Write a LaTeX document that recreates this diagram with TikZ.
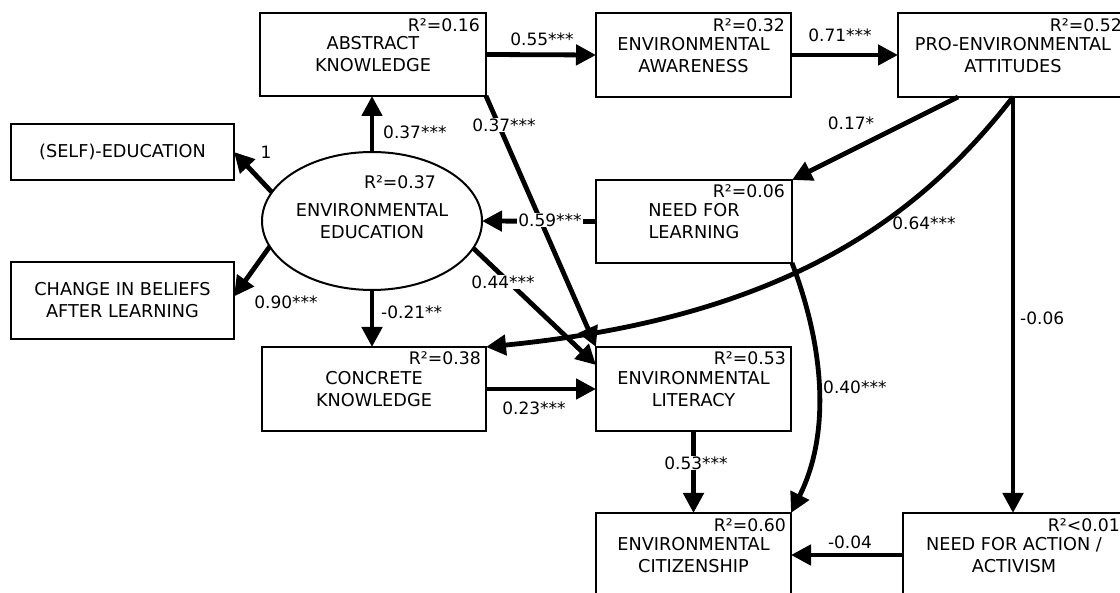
\documentclass[tikz,border=0pt]{standalone}
\usepackage{fontspec}
\setmainfont{DejaVu Sans}
\usetikzlibrary{arrows.meta,shapes.geometric,calc}
\begin{document}
\begin{tikzpicture}[x=1pt,y=-1pt,
  box/.style={draw,line width=2.2pt,rectangle,inner sep=0pt,outer sep=0pt,align=center,
    font=\fontsize{17.7pt}{22pt}\selectfont},
  rsq/.style={inner sep=0pt,anchor=north east,font=\fontsize{17.3pt}{20pt}\selectfont},
  lab/.style={inner sep=1pt,font=\fontsize{17pt}{20pt}\selectfont},
  wlab/.style={lab,fill=white},
  conn/.style={line width=4.8pt,-{Triangle[length=20pt,width=20pt]}},
  txt/.style={inner sep=0pt,align=center,font=\fontsize{17.7pt}{22pt}\selectfont}]
\useasboundingbox (0,0) rectangle (1120,593);
\fill[white] (0,0) rectangle (1120,593);
\clip (0,0) rectangle (1120,593);

% boxes
\node[box,minimum width=226pt,minimum height=83pt] (abs) at (373,54.5) {ABSTRACT\\KNOWLEDGE};
\node[box,minimum width=195pt,minimum height=84pt] (aware) at (693.5,55) {ENVIRONMENTAL\\AWARENESS};
\node[box,minimum width=230pt,minimum height=84pt] (pro) at (1013,55) {PRO-ENVIRONMENTAL\\ATTITUDES};
\node[box,minimum width=223pt,minimum height=56pt] (self) at (122.5,152) {(SELF)-EDUCATION};
\node[box,minimum width=223pt,minimum height=77pt] (change) at (122.5,300.5) {CHANGE IN BELIEFS\\AFTER LEARNING};
\node[draw,ellipse,line width=2pt,minimum width=220pt,minimum height=138pt,inner sep=0pt,outer sep=0pt] (ell) at (372,221) {};
\node[txt] (elltxt) at (ell.center) {ENVIRONMENTAL\\EDUCATION};
\node[box,minimum width=196pt,minimum height=83pt] (learn) at (694,221.5) {NEED FOR\\LEARNING};
\node[box,minimum width=224pt,minimum height=84pt] (conc) at (374,389) {CONCRETE\\KNOWLEDGE};
\node[box,minimum width=195pt,minimum height=84pt] (lit) at (693.5,389) {ENVIRONMENTAL\\LITERACY};
\node[box,minimum width=195pt,minimum height=84pt] (cit) at (693.5,555) {ENVIRONMENTAL\\CITIZENSHIP};
\node[box,minimum width=222pt,minimum height=84pt] (action) at (1014,555) {NEED FOR ACTION /\\ACTIVISM};

% R squared
\node[rsq] (r1) at ([xshift=-6pt,yshift=-5pt]abs.north east) {R²=0.16};
\node[rsq] (r2) at ([xshift=-6pt,yshift=-5pt]aware.north east) {R²=0.32};
\node[rsq] (r3) at ([xshift=-6pt,yshift=-5pt]pro.north east) {R²=0.52};
\node[inner sep=0pt,font=\fontsize{17.3pt}{20pt}\selectfont] (r4) at (400,182) {R²=0.37};
\node[rsq] (r5) at ([xshift=-7pt,yshift=-4pt]learn.north east) {R²=0.06};
\node[rsq] (r6) at ([xshift=-5pt,yshift=-4pt]conc.north east) {R²=0.38};
\node[rsq] (r7) at ([xshift=-5pt,yshift=-4pt]lit.north east) {R²=0.53};
\node[rsq] (r8) at ([xshift=-5pt,yshift=-5pt]cit.north east) {R²=0.60};
\node[rsq] (r9) at ([xshift=-5pt,yshift=-5pt]action.north east) {R²<0.01};

% connectors
\draw[conn] (ell.north) -- (ell.north |- abs.south);
\draw[conn] (ell.164) -- (self.east);
\draw[conn] (ell.194.8) -- ([yshift=4pt]change.east);
\draw[conn] (ell.south) -- (ell.south |- conc.north);
\draw[conn] (learn.west) -- (ell.east);
\draw[conn] (abs.east) -- (aware.west);
\draw[conn] (aware.east) -- (pro.west);
\draw[conn] (abs.south east) -- (lit.north west);
\draw[conn] (ell.-15) -- ([yshift=-18pt]lit.north west);
\draw[conn] (conc.east) -- (lit.west);
\draw[conn] (lit.south) -- (cit.north);
\draw[conn] ([xshift=-55pt]pro.south) -- (learn.north east);
\draw[conn] (pro.south) .. controls +(-97,125) and +(294,-29) .. (conc.north east);
\draw[conn] (learn.south east) .. controls +(32,84) and +(40,-80) .. (cit.north east);
\draw[conn] (pro.south) -- (pro.south |- action.north);
\draw[conn] (action.west) -- (cit.east);

% labels
\node[lab,anchor=west] (l1) at (382,132) {0.37***};
\node[lab] (l2) at (266,152) {1};
\node[lab] (l3) at (286,302) {0.90***};
\node[lab,anchor=west] (l4) at (380,312) {-0.21**};
\node[wlab] (l5) at (550,220) {0.59***};
\node[lab] (l6) at (542,39) {0.55***};
\node[lab] (l7) at (840,35) {0.71***};
\node[wlab] (l8) at (504,125) {0.37***};
\node[wlab] (l9) at (503,282) {0.44***};
\node[lab] (l10) at (534,408) {0.23***};
\node[wlab] (l11) at (696,463) {0.53***};
\node[lab] (l12) at (851,123) {0.17*};
\node[lab] (l13) at (924,223) {0.64***};
\node[lab,anchor=west] (l14) at (822,387) {0.40***};
\node[lab,anchor=west] (l15) at (1019,318) {-0.06};
\node[lab] (l16) at (850,542) {-0.04};
\end{tikzpicture}
\end{document}
